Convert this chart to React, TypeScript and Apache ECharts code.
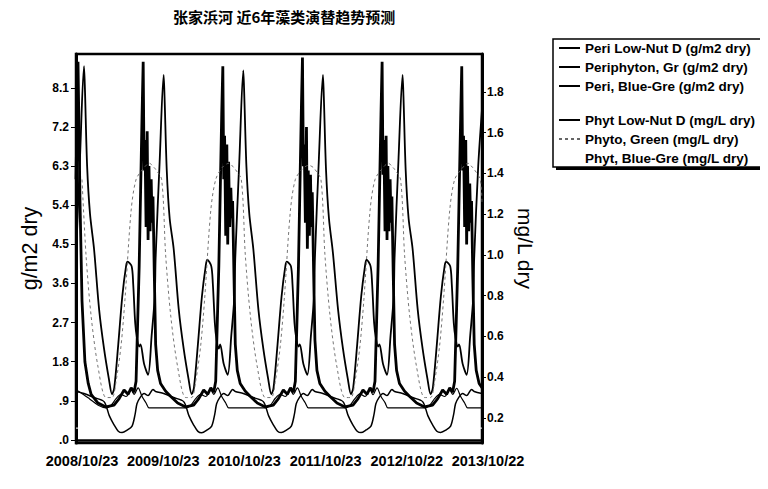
import React, { useEffect, useRef } from "react";
import * as echarts from "echarts";

const TITLE = "张家浜河 近6年藻类演替趋势预测";

const xTickDays = [0, 365, 730, 1095, 1460, 1825];
const xTickLabels = ["2008/10/23", "2009/10/23", "2010/10/23", "2011/10/23", "2012/10/22", "2013/10/22"];
const leftTicks = [0, 0.9, 1.8, 2.7, 3.6, 4.5, 5.4, 6.3, 7.2, 8.1];
const leftTickLabels = [".0", ".9", "1.8", "2.7", "3.6", "4.5", "5.4", "6.3", "7.2", "8.1"];
const rightTicks = [0.2, 0.4, 0.6, 0.8, 1.0, 1.2, 1.4, 1.6, 1.8];
const rightTickLabels = ["0.2", "0.4", "0.6", "0.8", "1.0", "1.2", "1.4", "1.6", "1.8"];

const seriesNames = [
  "Peri Low-Nut D (g/m2 dry)",
  "Periphyton, Gr (g/m2 dry)",
  "Peri, Blue-Gre (g/m2 dry)",
  "Phyt Low-Nut D (mg/L dry)",
  "Phyto, Green (mg/L dry)",
  "Phyt, Blue-Gre (mg/L dry)",
];

// days since 2008/10/23
const periLowNutDays = [
  0, 18, 60, 100, 135, 158, 180, 202, 225, 248, 261, 279, 297, 315, 328,
  358, 493, 516, 538, 560, 583, 606, 619, 637, 655, 673, 686,
  716, 851, 874, 896, 918, 941, 964, 977, 995, 1013, 1031, 1044,
  1074, 1209, 1232, 1254, 1276, 1299, 1322, 1335, 1353, 1371, 1389, 1402,
  1432, 1567, 1590, 1612, 1634, 1657, 1680, 1693, 1711, 1729, 1747, 1760,
  1790, 1825,
];
const periLowNutVals = [
  1.15, 1.1, 0.95, 0.8, 0.74, 0.8, 0.95, 1.05, 1.0, 1.15, 1.05, 1.2, 1.0, 0.85, 0.74,
  0.74, 0.74, 0.8, 0.95, 1.05, 1.0, 1.15, 1.05, 1.2, 1.0, 0.85, 0.74,
  0.74, 0.74, 0.8, 0.96, 1.05, 1.0, 1.14, 1.05, 1.2, 1.0, 0.85, 0.74,
  0.74, 0.74, 0.8, 0.95, 1.06, 1.0, 1.15, 1.04, 1.2, 1.0, 0.86, 0.74,
  0.74, 0.74, 0.8, 0.95, 1.05, 1.0, 1.15, 1.05, 1.19, 1.0, 0.85, 0.74,
  0.74, 0.74,
];

const periGreenDays = [
  0, 18, 36, 40, 50, 63, 81, 104, 126, 148, 162, 172, 190, 208, 225, 232, 250, 257, 266, 274, 284, 290, 306, 324, 340, 354,
  358, 376, 394, 398, 408, 421, 439, 462, 484, 506, 520, 530, 548, 566, 583, 590, 608, 615, 624, 632, 642, 648, 664, 682, 698, 712,
  716, 734, 752, 756, 766, 779, 797, 820, 842, 864, 878, 888, 906, 924, 941, 948, 966, 973, 982, 990, 1000, 1006, 1022, 1040, 1056, 1070,
  1074, 1092, 1110, 1114, 1124, 1137, 1155, 1178, 1200, 1222, 1236, 1246, 1264, 1282, 1299, 1306, 1324, 1331, 1340, 1348, 1358, 1364, 1380, 1398, 1414, 1428,
  1432, 1450, 1468, 1472, 1482, 1495, 1513, 1536, 1558, 1580, 1594, 1604, 1622, 1640, 1657, 1664, 1682, 1689, 1698, 1706, 1716, 1722, 1738, 1756, 1772, 1786,
  1790, 1808, 1825,
];
const periGreenVals = [
  4.2, 6.5, 8.6, 8.1, 6.3, 5.2, 4.4, 3.0, 2.1, 1.4, 1.05, 1.2, 2.2, 3.3, 4.0, 4.1, 4.0, 3.6, 2.7, 2.35, 2.15, 2.2, 1.75, 1.5, 2.4, 3.3,
  4.2, 6.4, 8.4, 7.9, 6.2, 5.1, 4.4, 3.0, 2.1, 1.4, 1.05, 1.2, 2.2, 3.3, 4.0, 4.15, 4.0, 3.6, 2.7, 2.3, 2.1, 2.2, 1.75, 1.5, 2.4, 3.3,
  4.2, 6.4, 8.5, 8.0, 6.3, 5.2, 4.4, 3.0, 2.1, 1.4, 1.05, 1.2, 2.2, 3.3, 4.0, 4.1, 4.0, 3.6, 2.7, 2.35, 2.15, 2.2, 1.75, 1.5, 2.4, 3.3,
  4.2, 6.5, 8.4, 7.9, 6.2, 5.1, 4.3, 3.0, 2.1, 1.4, 1.05, 1.2, 2.2, 3.3, 4.0, 4.15, 4.0, 3.6, 2.7, 2.35, 2.15, 2.2, 1.75, 1.5, 2.4, 3.3,
  4.2, 6.5, 8.4, 7.9, 6.2, 5.1, 4.4, 3.0, 2.1, 1.4, 1.05, 1.2, 2.2, 3.3, 4.0, 4.1, 4.0, 3.6, 2.7, 2.35, 2.15, 2.2, 1.75, 1.5, 2.4, 3.3,
  4.2, 6.3, 7.6,
];

const periBlueDays = [
  0, 9, 18, 27, 40, 55, 68, 99, 135, 171, 194, 216, 234, 248, 261, 270, 284, 297, 302, 306, 310, 315, 320, 324, 328, 333, 338, 342, 346, 352,
  358, 367, 380, 403, 426, 457, 493, 529, 552, 574, 592, 606, 619, 628, 642, 655, 660, 664, 668, 673, 678, 682, 686, 691, 696, 700, 704, 710,
  716, 725, 738, 761, 784, 815, 851, 887, 910, 932, 950, 964, 977, 986, 1000, 1013, 1018, 1022, 1026, 1031, 1036, 1040, 1044, 1049, 1054, 1058, 1062, 1068,
  1074, 1083, 1096, 1119, 1142, 1173, 1209, 1245, 1268, 1290, 1308, 1322, 1335, 1344, 1358, 1371, 1376, 1380, 1384, 1389, 1394, 1398, 1402, 1407, 1412, 1416, 1420, 1426,
  1432, 1441, 1454, 1477, 1500, 1531, 1567, 1603, 1626, 1648, 1666, 1680, 1693, 1702, 1716, 1729, 1734, 1738, 1742, 1747, 1752, 1756, 1760, 1765, 1770, 1774, 1778, 1784,
  1790, 1799, 1812, 1825,
];
const periBlueVals = [
  6.0, 8.7, 5.5, 3.2, 1.8, 1.3, 1.05, 0.85, 0.76, 0.8, 0.95, 1.15, 1.05, 1.2, 1.1, 1.35, 4.0, 7.5, 8.7, 6.2, 6.9, 4.9, 7.1, 4.6, 6.3, 4.8, 6.0, 5.0, 5.6, 3.8,
  2.2, 1.6, 1.3, 1.12, 1.0, 0.85, 0.76, 0.8, 0.95, 1.15, 1.05, 1.2, 1.1, 1.35, 4.0, 7.5, 8.6, 6.0, 7.0, 4.7, 6.8, 4.5, 6.4, 4.9, 5.8, 5.1, 5.5, 3.8,
  2.2, 1.6, 1.3, 1.12, 1.0, 0.85, 0.76, 0.8, 0.95, 1.15, 1.05, 1.2, 1.1, 1.35, 4.0, 7.6, 8.8, 6.3, 6.8, 5.0, 7.2, 4.4, 6.2, 4.7, 6.1, 4.9, 5.7, 3.9,
  2.3, 1.6, 1.3, 1.12, 1.0, 0.85, 0.76, 0.8, 0.95, 1.15, 1.05, 1.2, 1.1, 1.35, 4.0, 7.5, 8.7, 6.1, 6.9, 4.8, 7.0, 4.6, 6.3, 4.8, 6.0, 5.0, 5.6, 3.8,
  2.2, 1.6, 1.3, 1.12, 1.0, 0.85, 0.76, 0.8, 0.95, 1.15, 1.05, 1.2, 1.1, 1.35, 4.0, 7.4, 8.6, 6.2, 7.0, 4.9, 6.9, 4.5, 6.3, 4.8, 5.9, 5.0, 5.5, 3.7,
  2.2, 1.6, 1.3, 1.2,
];

const phytLowNutDays = [
  0, 36, 81, 126, 150, 171, 190, 207, 230, 252, 266, 274, 288, 306, 324, 346,
  358, 394, 439, 484, 508, 529, 548, 565, 588, 610, 624, 632, 646, 664, 682, 704,
  716, 752, 797, 842, 866, 887, 906, 923, 946, 968, 982, 990, 1004, 1022, 1040, 1062,
  1074, 1110, 1155, 1200, 1224, 1245, 1264, 1281, 1304, 1326, 1340, 1348, 1362, 1380, 1398, 1420,
  1432, 1468, 1513, 1558, 1582, 1603, 1622, 1639, 1662, 1684, 1698, 1706, 1720, 1738, 1756, 1778,
  1790, 1825,
];
const phytLowNutVals = [
  0.33, 0.32, 0.3, 0.28, 0.21, 0.166, 0.135, 0.128, 0.14, 0.16, 0.22, 0.27, 0.3, 0.32, 0.31, 0.34,
  0.33, 0.32, 0.3, 0.28, 0.21, 0.165, 0.134, 0.127, 0.14, 0.16, 0.22, 0.27, 0.3, 0.32, 0.31, 0.34,
  0.33, 0.32, 0.3, 0.28, 0.21, 0.166, 0.135, 0.128, 0.14, 0.16, 0.22, 0.27, 0.3, 0.32, 0.31, 0.34,
  0.33, 0.32, 0.3, 0.28, 0.21, 0.165, 0.135, 0.128, 0.141, 0.16, 0.22, 0.27, 0.3, 0.32, 0.31, 0.34,
  0.33, 0.32, 0.3, 0.28, 0.21, 0.166, 0.135, 0.129, 0.14, 0.16, 0.22, 0.27, 0.3, 0.32, 0.31, 0.34,
  0.33, 0.32,
];

const phytoGreenDays = [
  27, 45, 68, 99, 135, 162, 180, 202, 220, 248, 270, 300, 330, 350,
  358, 385, 403, 426, 457, 493, 520, 538, 560, 578, 606, 628, 658, 688, 708,
  716, 743, 761, 784, 815, 851, 878, 896, 918, 936, 964, 986, 1016, 1046, 1066,
  1074, 1101, 1119, 1142, 1173, 1209, 1236, 1254, 1276, 1294, 1322, 1344, 1374, 1404, 1424,
  1432, 1459, 1477, 1500, 1531, 1567, 1594, 1612, 1634, 1652, 1680, 1702, 1732, 1762, 1782,
  1790, 1817, 1825,
];
const phytoGreenVals = [
  1.37, 1.0, 0.7, 0.45, 0.3, 0.3, 0.38, 0.55, 0.78, 1.22, 1.37, 1.42, 1.45, 1.43,
  1.42, 1.37, 1.0, 0.7, 0.45, 0.3, 0.3, 0.38, 0.55, 0.78, 1.22, 1.37, 1.43, 1.45, 1.43,
  1.42, 1.37, 1.0, 0.7, 0.45, 0.3, 0.3, 0.38, 0.55, 0.78, 1.22, 1.37, 1.42, 1.44, 1.43,
  1.42, 1.37, 1.0, 0.7, 0.45, 0.3, 0.3, 0.38, 0.55, 0.78, 1.22, 1.37, 1.42, 1.45, 1.43,
  1.42, 1.37, 1.0, 0.7, 0.45, 0.3, 0.3, 0.38, 0.55, 0.78, 1.22, 1.37, 1.42, 1.45, 1.43,
  1.42, 1.37, 1.25,
];

const phytBlueDays = [0, 1825];
const phytBlueVals = [0.15, 0.15];

function zip(days: number[], vals: number[]) {
  return days.map((d, i) => [d, vals[i]]);
}

function lookup(ticks: number[], labels: string[], v: number) {
  const i = ticks.findIndex((t) => Math.abs(t - v) < 1e-6);
  return i >= 0 ? labels[i] : "";
}

const FONT = "Liberation Sans";

export default function App() {
  const ref = useRef<HTMLDivElement>(null);
  useEffect(() => {
    if (!ref.current) return;
    const chart = echarts.init(ref.current, undefined, { renderer: "svg" });
    const lineBase = { type: "line", showSymbol: false, symbol: "none", z: 3 };
    const legendText = { fontFamily: FONT, fontWeight: "bold", fontSize: 13.5, color: "#000" };
    const legendBase = {
      orient: "vertical",
      left: 558,
      padding: 0,
      itemWidth: 21,
      itemHeight: 12,
      itemGap: 5,
      selectedMode: false,
      z: 10,
      itemStyle: { opacity: 0 },
      textStyle: legendText,
    };
    const option: any = {
      animation: false,
      backgroundColor: "#fff",
      title: {
        text: TITLE,
        left: 168,
        top: 4,
        textStyle: { fontFamily: "Noto Sans CJK SC", fontSize: 15, fontWeight: "bold", color: "#000" },
      },
      grid: {
        left: 76,
        right: 286,
        top: 54,
        bottom: 46,
        show: true,
        borderColor: "#000",
        borderWidth: 2.5,
        backgroundColor: "transparent",
      },
      legend: [
        { ...legendBase, top: 41, data: seriesNames.slice(0, 3) },
        { ...legendBase, top: 113, data: seriesNames.slice(3) },
      ],
      xAxis: {
        type: "value",
        min: 0,
        max: 1825,
        axisLine: { show: true, lineStyle: { color: "#000", width: 2.5 } },
        axisTick: { show: false },
        splitLine: { show: false },
        axisLabel: {
          customValues: xTickDays,
          formatter: (v: number) => lookup(xTickDays, xTickLabels, v),
          fontFamily: FONT,
          fontSize: 14.5,
          fontWeight: "bold",
          color: "#000",
          margin: 10,
          padding: [0, 0, 0, 12],
        },
      },
      yAxis: [
        {
          type: "value",
          position: "left",
          min: -0.07,
          max: 8.88,
          name: "g/m2 dry",
          nameLocation: "middle",
          nameRotate: 90,
          nameGap: 22,
          nameTextStyle: { fontFamily: FONT, fontSize: 21.5, color: "#000" },
          axisLine: { show: true, lineStyle: { color: "#000", width: 3 } },
          axisTick: { show: true, customValues: leftTicks, length: 5, lineStyle: { color: "#000", width: 1 } },
          splitLine: { show: false },
          axisLabel: {
            customValues: leftTicks,
            formatter: (v: number) => lookup(leftTicks, leftTickLabels, v),
            fontFamily: FONT,
            fontSize: 12,
            fontWeight: "bold",
            color: "#000",
            margin: 7,
          },
        },
        {
          type: "value",
          position: "right",
          min: 0.077,
          max: 1.986,
          name: "mg/L dry",
          nameLocation: "middle",
          nameRotate: -90,
          nameGap: 31,
          nameTextStyle: { fontFamily: FONT, fontSize: 21, color: "#000" },
          axisLine: { show: true, lineStyle: { color: "#000", width: 3 } },
          axisTick: { show: true, customValues: rightTicks, length: 4, lineStyle: { color: "#000", width: 1 } },
          splitLine: { show: false },
          axisLabel: {
            customValues: rightTicks,
            formatter: (v: number) => lookup(rightTicks, rightTickLabels, v),
            fontFamily: FONT,
            fontSize: 12,
            fontWeight: "bold",
            color: "#000",
            margin: 5,
          },
        },
      ],
      series: [
        {
          ...lineBase,
          name: seriesNames[5],
          yAxisIndex: 1,
          z: 1,
          color: "#ffffff",
          lineStyle: { color: "#ffffff", width: 1 },
          data: zip(phytBlueDays, phytBlueVals),
        },
        {
          ...lineBase,
          name: seriesNames[0],
          yAxisIndex: 0,
          smooth: 0.3,
          color: "#000",
          lineStyle: { color: "#000", width: 1.2 },
          data: zip(periLowNutDays, periLowNutVals),
        },
        {
          ...lineBase,
          name: seriesNames[1],
          yAxisIndex: 0,
          smooth: 0.3,
          color: "#000",
          lineStyle: { color: "#000", width: 1.8 },
          data: zip(periGreenDays, periGreenVals),
        },
        {
          ...lineBase,
          name: seriesNames[2],
          yAxisIndex: 0,
          color: "#000",
          lineStyle: { color: "#000", width: 2.8 },
          data: zip(periBlueDays, periBlueVals),
        },
        {
          ...lineBase,
          name: seriesNames[3],
          yAxisIndex: 1,
          smooth: 0.3,
          color: "#000",
          lineStyle: { color: "#000", width: 1.5 },
          data: zip(phytLowNutDays, phytLowNutVals),
        },
        {
          ...lineBase,
          name: seriesNames[4],
          yAxisIndex: 1,
          smooth: 0.3,
          color: "#666",
          lineStyle: { color: "#666", width: 0.9, type: [3, 3] },
          data: zip(phytoGreenDays, phytoGreenVals),
        },
      ],
      graphic: [
        {
          type: "rect",
          z: 0,
          shape: { x: 556, y: 42, width: 210, height: 128 },
          style: { fill: "#000" },
        },
        {
          type: "rect",
          z: 1,
          shape: { x: 553, y: 39, width: 210, height: 128 },
          style: { fill: "#fff", stroke: "#000", lineWidth: 1.5 },
        },
      ],
    };
    chart.setOption(option);
    return () => chart.dispose();
  }, []);
  return <div ref={ref} style={{ width: 768, height: 489, margin: -8 }} />;
}
